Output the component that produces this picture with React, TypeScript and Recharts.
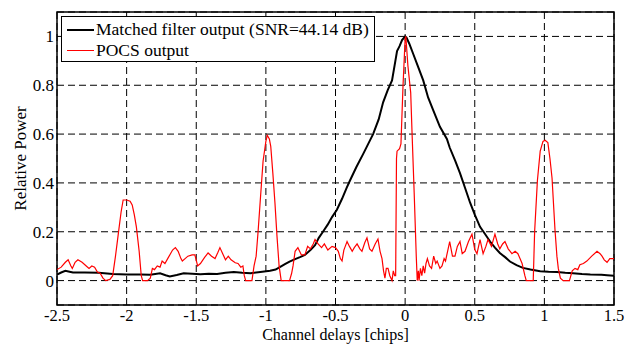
import { LineChart, Line, XAxis, YAxis, CartesianGrid, ReferenceArea, Legend } from "recharts"

// x ticks (chips) and y ticks (relative power)
const xTicks = [-2.5, -2, -1.5, -1, -0.5, 0, 0.5, 1, 1.5]
const yTicks = [0, 0.2, 0.4, 0.6, 0.8, 1]

// matched filter output (black)
const mfX = [
  -2.5, -2.47, -2.44, -2.41, -2.385, -2.3, -2.2, -2.1, -2.0, -1.9, -1.83, -1.76, -1.72, -1.69, -1.64,
  -1.59, -1.53, -1.47, -1.41, -1.35, -1.29, -1.23, -1.17, -1.11, -1.04, -0.97, -0.93, -0.9, -0.86,
  -0.83, -0.79, -0.755, -0.72, -0.68, -0.647, -0.62, -0.59, -0.555, -0.525, -0.49, -0.453, -0.42,
  -0.396, -0.35, -0.3, -0.265, -0.23, -0.19, -0.158, -0.125, -0.094, -0.07, -0.058, -0.04, -0.022, 0,
  0.01, 0.03, 0.057, 0.09, 0.13, 0.165, 0.2, 0.25, 0.3, 0.32, 0.36, 0.394, 0.43, 0.466, 0.5, 0.538,
  0.575, 0.61, 0.645, 0.68, 0.72, 0.753, 0.8, 0.846, 0.9, 0.97, 1.03, 1.09, 1.15, 1.205, 1.27, 1.33,
  1.41, 1.45, 1.5,
]
const mfY = [
  0.025, 0.033, 0.04, 0.036, 0.033, 0.033, 0.032, 0.027, 0.025, 0.025, 0.024, 0.03, 0.022, 0.017, 0.023,
  0.03, 0.028, 0.026, 0.028, 0.027, 0.032, 0.035, 0.032, 0.03, 0.035, 0.04, 0.045, 0.055, 0.068,
  0.078, 0.088, 0.096, 0.105, 0.125, 0.145, 0.175, 0.2, 0.23, 0.26, 0.29, 0.335, 0.38,
  0.41, 0.465, 0.52, 0.56, 0.6, 0.66, 0.73, 0.78, 0.82, 0.9, 0.94, 0.96, 0.985, 1.0,
  0.995, 0.97, 0.93, 0.88, 0.82, 0.75, 0.7, 0.63, 0.58, 0.545, 0.49, 0.44, 0.38, 0.32, 0.27, 0.22,
  0.19, 0.16, 0.135, 0.113, 0.095, 0.078, 0.063, 0.052, 0.045, 0.038, 0.036, 0.035, 0.032, 0.03, 0.027, 0.025,
  0.024, 0.022, 0.02,
]

// POCS output (red)
const pocsX = [
  -2.5, -2.47, -2.44, -2.42, -2.4, -2.39, -2.37, -2.35, -2.32, -2.29, -2.27, -2.25, -2.23, -2.21, -2.19,
  -2.17, -2.15, -2.12, -2.1, -2.08, -2.06, -2.04, -2.025, -2.0, -1.975, -1.96, -1.945, -1.93, -1.91,
  -1.895, -1.885, -1.85, -1.83, -1.815, -1.8, -1.78, -1.76, -1.745, -1.725, -1.7, -1.67, -1.65, -1.63,
  -1.61, -1.6, -1.58, -1.56, -1.53, -1.51, -1.49, -1.47, -1.44, -1.415, -1.39, -1.365, -1.345, -1.33,
  -1.31, -1.29, -1.27, -1.25, -1.22, -1.2, -1.18, -1.165, -1.155, -1.145, -1.1, -1.085, -1.07, -1.056,
  -1.04, -1.02, -1.0, -0.99, -0.975, -0.965, -0.95, -0.935, -0.92, -0.905, -0.89, -0.83, -0.815, -0.805,
  -0.79, -0.77, -0.745, -0.72, -0.7, -0.68, -0.66, -0.647, -0.625, -0.6, -0.58, -0.555, -0.525, -0.5,
  -0.48, -0.465, -0.453, -0.44, -0.43, -0.417, -0.4, -0.38, -0.365, -0.345, -0.325, -0.31, -0.29,
  -0.274, -0.255, -0.238, -0.215, -0.195, -0.18, -0.166, -0.155, -0.145, -0.135, -0.123, -0.11, -0.094,
  -0.085, -0.075, -0.068, -0.062, -0.058, -0.04, -0.03, -0.015, 0, 0.005, 0.02, 0.04, 0.05, 0.065, 0.08,
  0.087, 0.095, 0.1, 0.11, 0.12, 0.13, 0.14, 0.15, 0.16, 0.175, 0.19, 0.205, 0.22, 0.23, 0.25, 0.265,
  0.28, 0.29, 0.305, 0.32, 0.34, 0.358, 0.375, 0.394, 0.41, 0.43, 0.455, 0.48, 0.5, 0.516, 0.538, 0.56,
  0.58, 0.595, 0.62, 0.645, 0.665, 0.68, 0.7, 0.717, 0.74, 0.767, 0.79, 0.81, 0.825, 0.84, 0.86, 0.87,
  0.92, 0.93, 0.95, 0.97, 0.99, 1.005, 1.025, 1.04, 1.055, 1.076, 1.09, 1.1, 1.115, 1.135, 1.18, 1.2,
  1.22, 1.24, 1.255, 1.28, 1.305, 1.34, 1.378, 1.4, 1.414, 1.43, 1.45, 1.47, 1.5,
]
const pocsY = [
  0.045, 0.055, 0.075, 0.085, 0.06, 0.05, 0.075, 0.085, 0.075, 0.06, 0.05, 0.06, 0.055, 0.035, 0.03,
  0.01, 0.0, 0.005, 0.02, 0.1, 0.19, 0.28, 0.33, 0.33, 0.325, 0.31, 0.27, 0.22, 0.12,
  0.02, 0.0, 0.0, 0.01, 0.05, 0.045, 0.06, 0.055, 0.08, 0.07, 0.095, 0.125, 0.135, 0.12,
  0.09, 0.08, 0.09, 0.1, 0.105, 0.105, 0.06, 0.07, 0.095, 0.113, 0.1, 0.09, 0.115, 0.135,
  0.11, 0.085, 0.1, 0.085, 0.073, 0.07, 0.055, 0.06, 0.02, 0.0, 0.0, 0.06, 0.1, 0.2,
  0.33, 0.49, 0.57, 0.595, 0.58, 0.55, 0.44, 0.32, 0.18, 0.06, 0.0, 0.0, 0.03, 0.06,
  0.12, 0.135, 0.105, 0.105, 0.14, 0.13, 0.15, 0.168, 0.15, 0.135, 0.15, 0.125, 0.14, 0.135,
  0.12, 0.09, 0.08, 0.125, 0.14, 0.16, 0.14, 0.12, 0.135, 0.15, 0.13, 0.12, 0.155,
  0.175, 0.13, 0.12, 0.15, 0.17, 0.12, 0.09, 0.04, 0.01, 0.05, 0.05, 0.02, 0.0,
  0.04, 0.02, 0.02, 0.5, 0.53, 0.54, 0.56, 0.8, 0.99, 1.0, 0.88, 0.77, 0.6, 0.36, 0.1,
  0.0, 0.04, 0.0, 0.05, 0.02, 0.06, 0.03, 0.07, 0.09, 0.06, 0.05, 0.1, 0.07, 0.08, 0.05, 0.06,
  0.09, 0.08, 0.12, 0.16, 0.1, 0.1, 0.14, 0.16, 0.11, 0.12, 0.16, 0.19, 0.127, 0.11, 0.168, 0.11,
  0.14, 0.168, 0.14, 0.19, 0.15, 0.13, 0.15, 0.16, 0.13, 0.11, 0.12, 0.11, 0.09, 0.07, 0.02, 0.0,
  0.0, 0.2, 0.41, 0.53, 0.57, 0.575, 0.565, 0.5, 0.42, 0.21, 0.1, 0.05, 0.01, 0.0, 0.0, 0.04,
  0.05, 0.045, 0.065, 0.07, 0.08, 0.1, 0.12, 0.11, 0.1, 0.085, 0.075, 0.09, 0.09,
]

const mfData = mfX.map((x, i) => ({ x, y: mfY[i] }))
const pocsData = pocsX.map((x, i) => ({ x, y: pocsY[i] }))

const font = '"Liberation Serif", serif'

function LegendBox() {
  const row = (color: string, width: number, text: string) => (
    <div style={{ display: "flex", alignItems: "center", height: 21 }}>
      <div style={{ width: 27, height: 0, borderTop: `${width}px solid ${color}`, marginRight: 2 }} />
      <span>{text}</span>
    </div>
  )
  return (
    <div
      style={{
        boxSizing: "border-box",
        width: 314,
        height: 46,
        border: "1.5px solid #000",
        background: "#fff",
        padding: "2px 0 0 5px",
        fontFamily: font,
        fontSize: 17.5,
        lineHeight: "21px",
        color: "#000",
        whiteSpace: "nowrap",
      }}
    >
      {row("#000", 2, "Matched filter output (SNR=44.14 dB)")}
      {row("#ff0000", 1.5, "POCS output")}
    </div>
  )
}

export default function App() {
  return (
    <div style={{ width: 633, height: 344, background: "#fff" }}>
      <style>{`body{margin:0}`}</style>
      <LineChart width={633} height={344} margin={{ top: 12, right: 19, left: 0, bottom: 0 }}>
        <CartesianGrid stroke="#000" strokeDasharray="7 4" strokeWidth={1} />
        <XAxis
          dataKey="x"
          type="number"
          domain={[-2.5, 1.5]}
          ticks={xTicks}
          allowDataOverflow
          height={39}
          tickLine={false}
          tickSize={0}
          tickMargin={4}
          axisLine={false}
          tick={{ fill: "#000", fontSize: 16.5, fontFamily: font }}
          label={{
            value: "Channel delays [chips]",
            position: "insideBottom",
            offset: 4,
            style: { fill: "#000", fontSize: 16, fontFamily: font },
          }}
        />
        <YAxis
          type="number"
          domain={[-0.1, 1.1]}
          ticks={yTicks}
          allowDataOverflow
          width={57}
          tickLine={false}
          tickSize={0}
          tickMargin={3}
          axisLine={false}
          tick={{ fill: "#000", fontSize: 17, fontFamily: font }}
          label={{
            value: "Relative Power",
            angle: -90,
            position: "insideLeft",
            offset: 20,
            style: { fill: "#000", fontSize: 17, fontFamily: font, textAnchor: "middle" },
          }}
        />
        <ReferenceArea x1={-2.5} x2={1.5} y1={-0.1} y2={1.1} fill="none" stroke="#000" strokeWidth={1.5} />
        <Line
          data={mfData}
          dataKey="y"
          type="linear"
          stroke="#000"
          strokeWidth={2}
          dot={false}
          isAnimationActive={false}
        />
        <Line
          data={pocsData}
          dataKey="y"
          type="linear"
          stroke="#ff0000"
          strokeWidth={1.2}
          dot={false}
          isAnimationActive={false}
        />
        <Legend
          layout="vertical"
          align="center"
          verticalAlign="middle"
          wrapperStyle={{ top: 16, left: 61, width: "auto" }}
          content={() => <LegendBox />}
        />
      </LineChart>
    </div>
  )
}
